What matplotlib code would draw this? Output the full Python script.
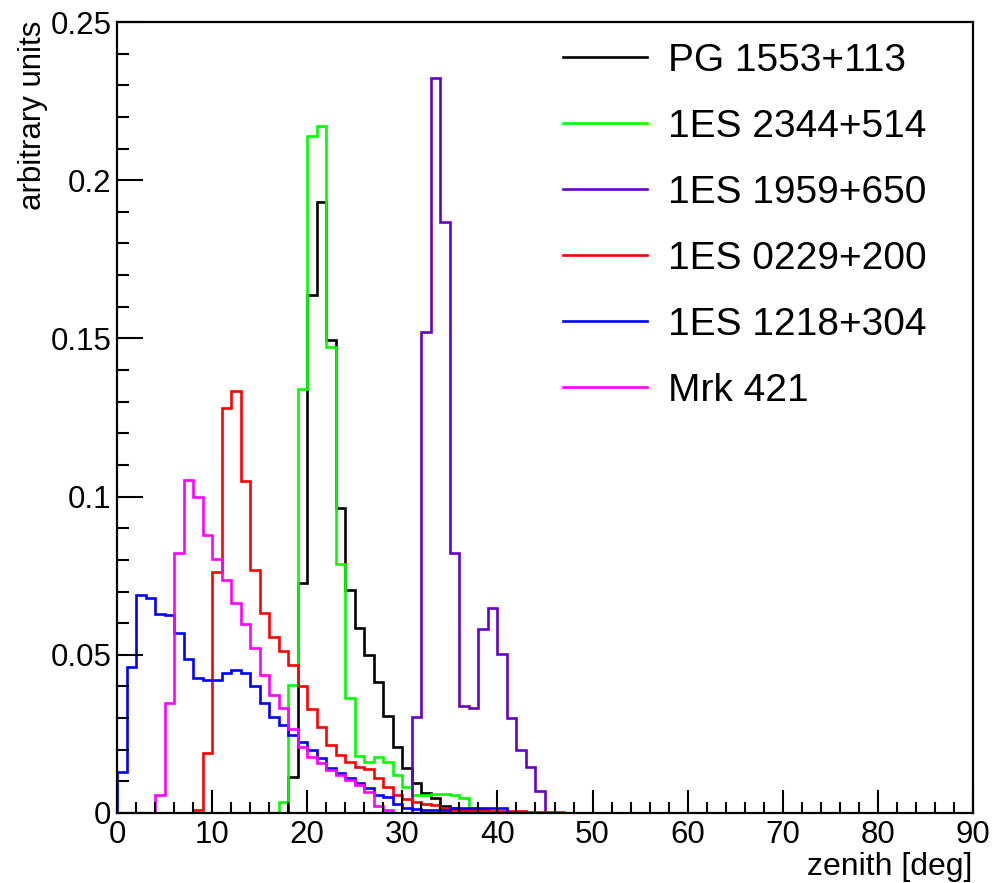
import numpy as np
import matplotlib
matplotlib.use("Agg")
import matplotlib.pyplot as plt
from matplotlib.lines import Line2D
from matplotlib.ticker import MultipleLocator

plt.rcParams['font.family'] = ['Liberation Sans', 'DejaVu Sans']

# 1-degree zenith bins, 0..90
bin_edges = np.arange(0, 91, 1)

labels = ["PG 1553+113", "1ES 2344+514", "1ES 1959+650", "1ES 0229+200", "1ES 1218+304", "Mrk 421"]
colors = ["#000000", "#00ff00", "#6600cc", "#ff0000", "#0000ff", "#ff00ff"]

# (first bin index, values)
pg1553_start = 18
pg1553 = [0.0115, 0.0728, 0.1637, 0.1932, 0.1495, 0.0963, 0.0705, 0.0584, 0.0499, 0.0415,
          0.0308, 0.021, 0.0141, 0.0094, 0.0062, 0.0046, 0.0022, 0.0015, 0.001, 0.0008, 0.0005]
es2344_start = 17
es2344 = [0.0035, 0.0406, 0.134, 0.214, 0.217, 0.1474, 0.0788, 0.0362, 0.018, 0.0162, 0.0178,
          0.0162, 0.012, 0.0083, 0.0057, 0.0057, 0.0059, 0.006, 0.0057, 0.0046, 0.0015, 0.0004]
es1959_start = 31
es1959 = [0.0303, 0.152, 0.2322, 0.1867, 0.0821, 0.0338, 0.0331, 0.0581, 0.0649, 0.0502,
          0.0299, 0.0199, 0.0146, 0.0071]
es0229_start = 8
es0229 = [0.001, 0.019, 0.0763, 0.128, 0.1335, 0.105, 0.0768, 0.0631, 0.0555, 0.0513, 0.0468,
          0.0402, 0.0329, 0.0271, 0.0215, 0.0183, 0.016, 0.0146, 0.014, 0.011, 0.0083, 0.0057,
          0.0043, 0.0036, 0.003, 0.0025, 0.0015, 0.001, 0.001, 0.0008, 0.0008, 0.0006, 0.0006,
          0.0005, 0.0005, 0.0004, 0.0004, 0.0003, 0.0003]
es1218_start = 0
es1218 = [0.013, 0.046, 0.069, 0.068, 0.063, 0.0626, 0.057, 0.0486, 0.0428, 0.042, 0.042,
          0.0443, 0.0452, 0.0443, 0.040, 0.0347, 0.0304, 0.0278, 0.0247, 0.0225, 0.020, 0.0173,
          0.0141, 0.0125, 0.011, 0.0094, 0.0078, 0.0057, 0.005, 0.003, 0.0015, 0.0012, 0.001,
          0.001, 0.001, 0.0015, 0.0015, 0.0015, 0.0015, 0.0015, 0.0015]
mrk421_start = 4
mrk421 = [0.0057, 0.0347, 0.0823, 0.1053, 0.100, 0.0879, 0.0804, 0.0735, 0.0665, 0.0598, 0.052,
          0.0435, 0.0372, 0.0333, 0.0266, 0.021, 0.0178, 0.0157, 0.0136, 0.012, 0.0104, 0.0088,
          0.0067, 0.0022, 0.001]

series = [(pg1553_start, pg1553), (es2344_start, es2344), (es1959_start, es1959),
          (es0229_start, es0229), (es1218_start, es1218), (mrk421_start, mrk421)]

W, H = 993, 883
fig = plt.figure(figsize=(W / 100, H / 100), dpi=100)
ax = fig.add_axes([117 / W, 1 - 813 / H, (973 - 117) / W, (813 - 22) / H])

LW = 1.9
nb = len(bin_edges) - 1
for (start, vals), c in zip(series, colors):
    full = np.zeros(nb)
    full[start:start + len(vals)] = vals
    ax.stairs(full, bin_edges, color=c, linewidth=LW, baseline=0)

ax.set_xlim(0, 90)
ax.set_ylim(0, 0.25)
ax.xaxis.set_major_locator(MultipleLocator(10))
ax.xaxis.set_minor_locator(MultipleLocator(2))
ax.yaxis.set_major_locator(MultipleLocator(0.05))
ax.yaxis.set_minor_locator(MultipleLocator(0.01))
ax.set_yticks([0, 0.05, 0.1, 0.15, 0.2, 0.25])
ax.set_yticklabels(["0", "0.05", "0.1", "0.15", "0.2", "0.25"])
ax.tick_params(which='both', direction='in', top=False, right=False, width=1.5, labelsize=22.5)
ax.tick_params(which='major', axis='x', length=16.5, pad=5)
ax.tick_params(which='minor', axis='x', length=8)
ax.tick_params(which='major', axis='y', length=19, pad=4)
ax.tick_params(which='minor', axis='y', length=8.5)
for s in ax.spines.values():
    s.set_linewidth(1.6)

fig.text(33 / W, 1 - 21 / H, "arbitrary units", rotation=90, ha='center', va='top', fontsize=22.5)
fig.text(972 / W, 1 - 867 / H, "zenith [deg]", ha='right', va='center', fontsize=23)

handles = [Line2D([0], [0], color=c, linewidth=LW) for c in colors]
ax.legend(handles, labels, loc='upper left', bbox_to_anchor=(563 / W, 1 - 43 / H),
          bbox_transform=fig.transFigure, frameon=False, fontsize=28,
          handlelength=2.16, handletextpad=0.54, labelspacing=0.77, borderpad=0,
          borderaxespad=0)

fig.savefig("out.png", dpi=100)
